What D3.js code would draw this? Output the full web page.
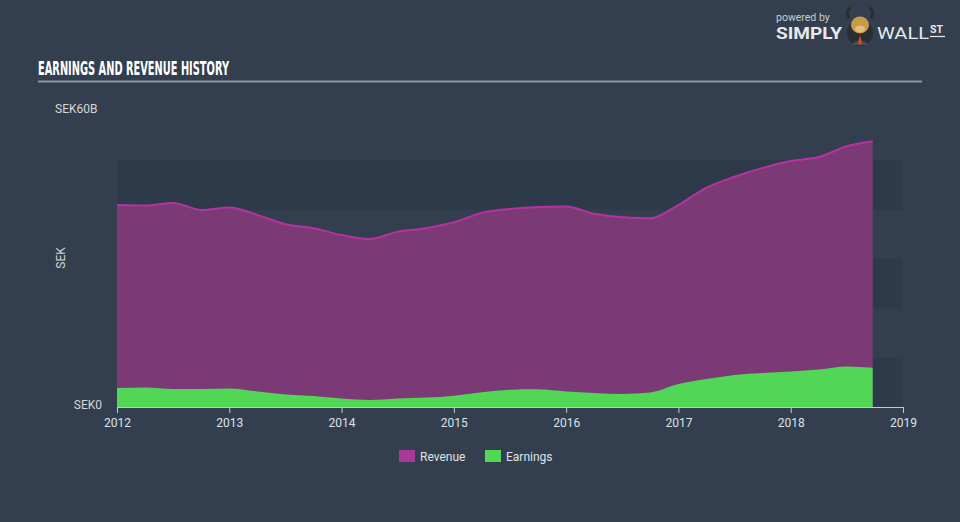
<!DOCTYPE html>
<html>
<head>
<meta charset="utf-8">
<script src="https://cdn.jsdelivr.net/npm/d3@7"></script>
<style>
  html, body { margin: 0; padding: 0; background: #333f4f; }
  svg { display: block; }
</style>
</head>
<body>
<svg id="chart" width="960" height="522"></svg>
<script>
// ---- data (SEK billions, quarterly dates as decimal years) ----
const dates = [2012.0, 2012.25, 2012.5, 2012.75, 2013.0, 2013.25, 2013.5, 2013.75,
               2014.0, 2014.25, 2014.5, 2014.75, 2015.0, 2015.25, 2015.5, 2015.75,
               2016.0, 2016.25, 2016.5, 2016.75, 2017.0, 2017.25, 2017.5, 2017.75,
               2018.0, 2018.25, 2018.5, 2018.73];
const revenue = [40.9, 40.8, 41.3, 39.9, 40.4, 38.9, 37.0, 36.2,
                 34.8, 34.0, 35.5, 36.2, 37.4, 39.3, 40.1, 40.5,
                 40.6, 39.1, 38.4, 38.2, 40.9, 44.4, 46.6, 48.4,
                 49.8, 50.6, 52.8, 53.8];
const earnings = [3.85, 3.95, 3.65, 3.65, 3.75, 3.15, 2.55, 2.25,
                  1.7, 1.4, 1.7, 1.9, 2.3, 3.0, 3.5, 3.6,
                  3.15, 2.85, 2.65, 2.95, 4.65, 5.65, 6.5, 6.9,
                  7.2, 7.6, 8.2, 7.95];
const xTicks = [2012, 2013, 2014, 2015, 2016, 2017, 2018, 2019];
const yMax = 60;
const yLabels = ["SEK0", "SEK60B"];
const seriesNames = ["Revenue", "Earnings"];

(function () {
const svg = d3.select("#chart");
const W = 960, H = 522;
const mLeft = 117, mRight = 903, mTop = 110.6, mBottom = 407;

svg.append("rect").attr("width", W).attr("height", H).attr("fill", "#333f4f");

const x = d3.scaleLinear().domain([2012, 2019]).range([mLeft, mRight]);
const y = d3.scaleLinear().domain([0, yMax]).range([mBottom, mTop]);

// alternating bands
const bandSteps = d3.range(0, yMax, 10);
svg.append("g").selectAll("rect")
  .data(bandSteps.filter((d, i) => i % 2 === 0 && d < 50))
  .join("rect")
  .attr("x", mLeft).attr("width", 902 - mLeft)
  .attr("y", d => y(d + 10)).attr("height", d => y(d) - y(d + 10))
  .attr("fill", "#2d3a4a");

// title
svg.append("text")
  .attr("x", 38).attr("y", 75)
  .attr("font-family", "'Liberation Sans Narrow', 'DejaVu Sans Condensed', sans-serif")
  .attr("font-weight", "bold").attr("font-size", 19)
  .attr("fill", "#ffffff")
  .attr("textLength", 191).attr("lengthAdjust", "spacingAndGlyphs")
  .text("EARNINGS AND REVENUE HISTORY");
svg.append("line").attr("x1", 38).attr("x2", 922).attr("y1", 81.5).attr("y2", 81.5)
  .attr("stroke", "#8f97a1").attr("stroke-width", 2);

// areas
const revData = dates.map((d, i) => ({ x: d, v: revenue[i] }));
const earnData = dates.map((d, i) => ({ x: d, v: earnings[i] }));
const area = d3.area().x(d => x(d.x)).y0(y(0)).y1(d => y(d.v)).curve(d3.curveMonotoneX);
const line = d3.line().x(d => x(d.x)).y(d => y(d.v)).curve(d3.curveMonotoneX);

svg.append("path").attr("d", area(revData)).attr("fill", "#7b3a76");
svg.append("path").attr("d", line(revData)).attr("fill", "none")
  .attr("stroke", "#b6339f").attr("stroke-width", 2);
svg.append("path").attr("d", area(earnData)).attr("fill", "#52d655");

// x axis
const xAxis = d3.axisBottom(x).tickValues(xTicks).tickFormat(d3.format("d")).tickSize(6).tickSizeOuter(0);
const gx = svg.append("g").attr("transform", `translate(0,${mBottom})`).call(xAxis);
gx.select(".domain").attr("stroke", "#c4c8ce");
gx.selectAll(".tick line").attr("stroke", "#c4c8ce");
gx.selectAll(".tick text").attr("fill", "#dfe2e6").attr("font-size", 12)
  .attr("font-family", "Roboto, 'Open Sans', sans-serif").attr("dy", "0.95em");

// y labels
const labelFont = "Roboto, 'Open Sans', sans-serif";
svg.append("text").attr("x", 55).attr("y", 112.5).attr("fill", "#d3d6da")
  .attr("font-size", 12).attr("font-family", labelFont).text(yLabels[1]);
svg.append("text").attr("x", 102).attr("y", y(0) + 2).attr("text-anchor", "end")
  .attr("fill", "#d3d6da").attr("font-size", 12).attr("font-family", labelFont).text(yLabels[0]);
svg.append("text").attr("transform", "translate(65,258) rotate(-90)")
  .attr("text-anchor", "middle").attr("fill", "#d3d6da").attr("font-size", 12)
  .attr("font-family", labelFont).text("SEK");

// legend
const legendColors = ["#a8399a", "#52d655"];
const legendX = [399, 485];
const lg = svg.append("g");
seriesNames.forEach((name, i) => {
  lg.append("rect").attr("x", legendX[i]).attr("y", 450).attr("width", 16).attr("height", 12)
    .attr("fill", legendColors[i]);
  lg.append("text").attr("x", legendX[i] + 21).attr("y", 460.5).attr("fill", "#dfe2e6")
    .attr("font-size", 12).attr("font-family", labelFont).text(name);
});

// logo
const logo = svg.append("g");
logo.append("text").attr("x", 776).attr("y", 21).attr("fill", "#c9cdd2")
  .attr("font-size", 10.5).attr("font-family", labelFont).text("powered by");
logo.append("text").attr("x", 776).attr("y", 39).attr("fill", "#e6e8eb")
  .attr("font-size", 16).attr("font-weight", "bold").attr("font-family", labelFont)
  .attr("textLength", 66).attr("lengthAdjust", "spacingAndGlyphs").text("SIMPLY");
logo.append("circle").attr("cx", 860).attr("cy", 33).attr("r", 13).attr("fill", "#2a2d34");
logo.append("path").attr("d", "M851,45 Q860,36 869,45 Z").attr("fill", "#4a4c55");
logo.append("ellipse").attr("cx", 860).attr("cy", 25).attr("rx", 9).attr("ry", 8.5).attr("fill", "#c79a45");
logo.append("ellipse").attr("cx", 860).attr("cy", 29).attr("rx", 5).attr("ry", 3.5).attr("fill", "#e0bf80");
logo.append("path").attr("d", "M849,18 Q845,10 851,8 M871,18 Q875,10 869,8")
  .attr("stroke", "#2b2b2b").attr("stroke-width", 2.5).attr("fill", "none");
logo.append("path").attr("d", "M860,35 L858,43 L860,45 L862,43 Z").attr("fill", "#d64a2b");
logo.append("text").attr("x", 877).attr("y", 39).attr("fill", "#e6e8eb")
  .attr("font-size", 16).attr("font-family", labelFont)
  .attr("textLength", 52).attr("lengthAdjust", "spacingAndGlyphs").text("WALL");
logo.append("text").attr("x", 930).attr("y", 33).attr("fill", "#e6e8eb")
  .attr("font-size", 10.5).attr("font-weight", "bold").attr("font-family", labelFont).text("ST");
logo.append("line").attr("x1", 930).attr("x2", 945).attr("y1", 36.5).attr("y2", 36.5)
  .attr("stroke", "#e6e8eb").attr("stroke-width", 1.2);
})();
</script>
</body>
</html>
